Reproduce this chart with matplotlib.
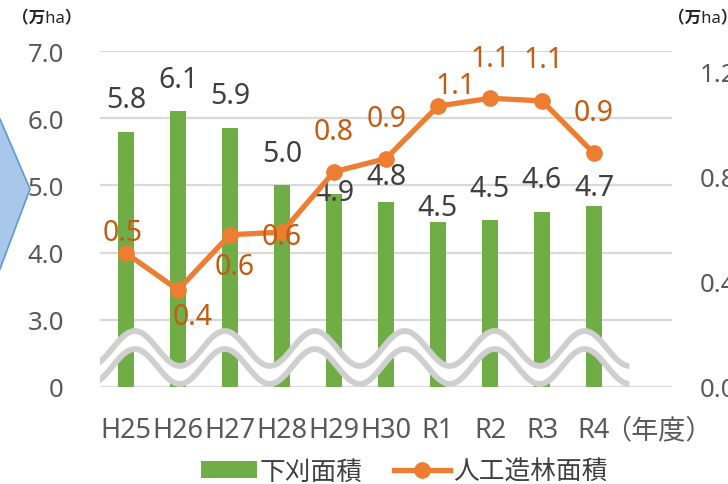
import numpy as np
import matplotlib
matplotlib.use("Agg")
import matplotlib.pyplot as plt
from matplotlib.patches import Polygon, Patch
from matplotlib.lines import Line2D
import matplotlib.transforms as mtransforms

plt.rcParams['font.family'] = ['Noto Sans', 'Noto Sans CJK JP', 'DejaVu Sans']

# data
years = ['H25', 'H26', 'H27', 'H28', 'H29', 'H30', 'R1', 'R2', 'R3', 'R4']
shitagari = [5.8, 6.1, 5.86, 5.0, 4.87, 4.76, 4.46, 4.48, 4.61, 4.70]      # 万ha, left axis
zorin = [0.51, 0.37, 0.58, 0.59, 0.82, 0.87, 1.07, 1.10, 1.09, 0.89]       # 万ha, right axis
left_ticks = [0, 3, 4, 5, 6, 7]
right_ticks = [0.0, 0.4, 0.8, 1.2]

# label nudges in pixels (dx, dy), mirrors the hand-placed labels of the original
bar_lbl_dy = [32, 32, 32, 32, 2, 25, 14, 32, 32, 18]
line_lbl_off = [(-3, 21), (15, -27), (5, -32), (0, -4), (0, 40),
                (1, 40), (17, 21), (0, 40), (1, 41), (0, 41)]

GREEN = '#70AD47'
ORANGE = '#ED7D31'
ORANGE_TXT = '#C55A11'
DARK = '#404040'
TICK = '#595959'
GRID = '#D9D9D9'


# broken axis: 0..3 squeezed into one grid step
def fwd(v):
    v = np.asarray(v, dtype=float)
    return np.where(v >= 3, v - 2, v / 3)


def inv(u):
    u = np.asarray(u, dtype=float)
    return np.where(u >= 1, u + 2, u * 3)


fig = plt.figure(figsize=(7.28, 4.85), dpi=100)
ax = fig.add_axes([100 / 728, 97 / 485, 572 / 728, 336 / 485])
ax.set_yscale('function', functions=(fwd, inv))
ax.set_ylim(0, 7)
ax.set_xlim(-0.5, 10.5)

x = np.arange(len(years))
ax.bar(x, shitagari, width=0.31, color=GREEN, zorder=2)

ax.set_yticks(left_ticks)
ax.set_yticklabels(['0'] + [f'{t:.1f}' for t in left_ticks[1:]])
ax.grid(axis='y', color=GRID, linewidth=1.6, zorder=0)
ax.set_axisbelow(True)
for s in ax.spines.values():
    s.set_visible(False)
ax.tick_params(axis='y', length=0, pad=26, labelsize=18.5, labelcolor=TICK)
ax.set_xticks(list(x) + [10.23])
ax.set_xticklabels(years + ['（年度）'])
ax.tick_params(axis='x', length=0, pad=21, labelsize=19.5, labelcolor=TICK)

for xi, v, dy in zip(x, shitagari, bar_lbl_dy):
    ax.annotate(f'{v:.1f}', (xi, v), xytext=(0, dy), textcoords='offset pixels',
                ha='center', va='center', fontsize=20.5, color=DARK, zorder=5)

# right axis
ax2 = ax.twinx()
ax2.set_ylim(0, 1.28)
ax2.plot(x, zorin, color=ORANGE, linewidth=3.8, marker='o', markersize=11, zorder=4)
ax2.set_yticks(right_ticks)
ax2.set_yticklabels([f'{t:.1f}' for t in right_ticks])
ax2.tick_params(axis='y', length=0, pad=20, labelsize=18.5, labelcolor=TICK)
for s in ax2.spines.values():
    s.set_visible(False)

for xi, v, (dx, dy) in zip(x, zorin, line_lbl_off):
    ax2.annotate(f'{v:.1f}', (xi, v), xytext=(dx, dy), textcoords='offset pixels',
                 ha='center', va='center', fontsize=20.5, color=ORANGE_TXT, zorder=6)

# wavy break marks
trans = mtransforms.blended_transform_factory(ax.transData, ax.transAxes)
wx = np.linspace(-0.66, 9.68, 400)
phase = 2 * np.pi * (wx - 0.17) / 1.73
up = 0.1146 + 0.052 * np.cos(phase)
lo = 0.061 + 0.052 * np.cos(phase)
ax2.fill_between(wx, lo, up, color='white', transform=trans, zorder=3, linewidth=0)
ax2.plot(wx, up, color='#CFCFCF', linewidth=4.2, transform=trans, zorder=3.5,
         solid_capstyle='butt')
ax2.plot(wx, lo, color='#CFCFCF', linewidth=4.2, transform=trans, zorder=3.5,
         solid_capstyle='butt')

# unit labels
fig.text(12 / 728, 1 - 19 / 485, '（万ha）', fontsize=12, fontweight='bold',
         color='#262626', ha='left', va='center')
fig.text(668 / 728, 1 - 19 / 485, '（万ha）', fontsize=12, fontweight='bold',
         color='#262626', ha='left', va='center')

# blue chevron from the slide behind the chart
arrow = Polygon([(-20, 485 - 120), (0, 485 - 120), (30, 485 - 190), (0, 485 - 270),
                 (-20, 485 - 270)], closed=True,
                facecolor='#A8C7EA', edgecolor='#5B9BD5', linewidth=1.2)
arrow.set_transform(mtransforms.IdentityTransform())
fig.patches.append(arrow)

handles = [Patch(facecolor=GREEN, label='下刈面積'),
           Line2D([], [], color=ORANGE, linewidth=3.8, marker='o', markersize=11,
                  label='人工造林面積')]
fig.legend(handles=handles, loc='center', bbox_to_anchor=(0.555, 1 - 473 / 485),
           ncol=2, frameon=False, fontsize=18.5, handlelength=2.2,
           handleheight=0.6, columnspacing=1.2, handletextpad=0.1,
           labelcolor=DARK, borderaxespad=0, borderpad=0)

fig.savefig('out.png', dpi=100)
